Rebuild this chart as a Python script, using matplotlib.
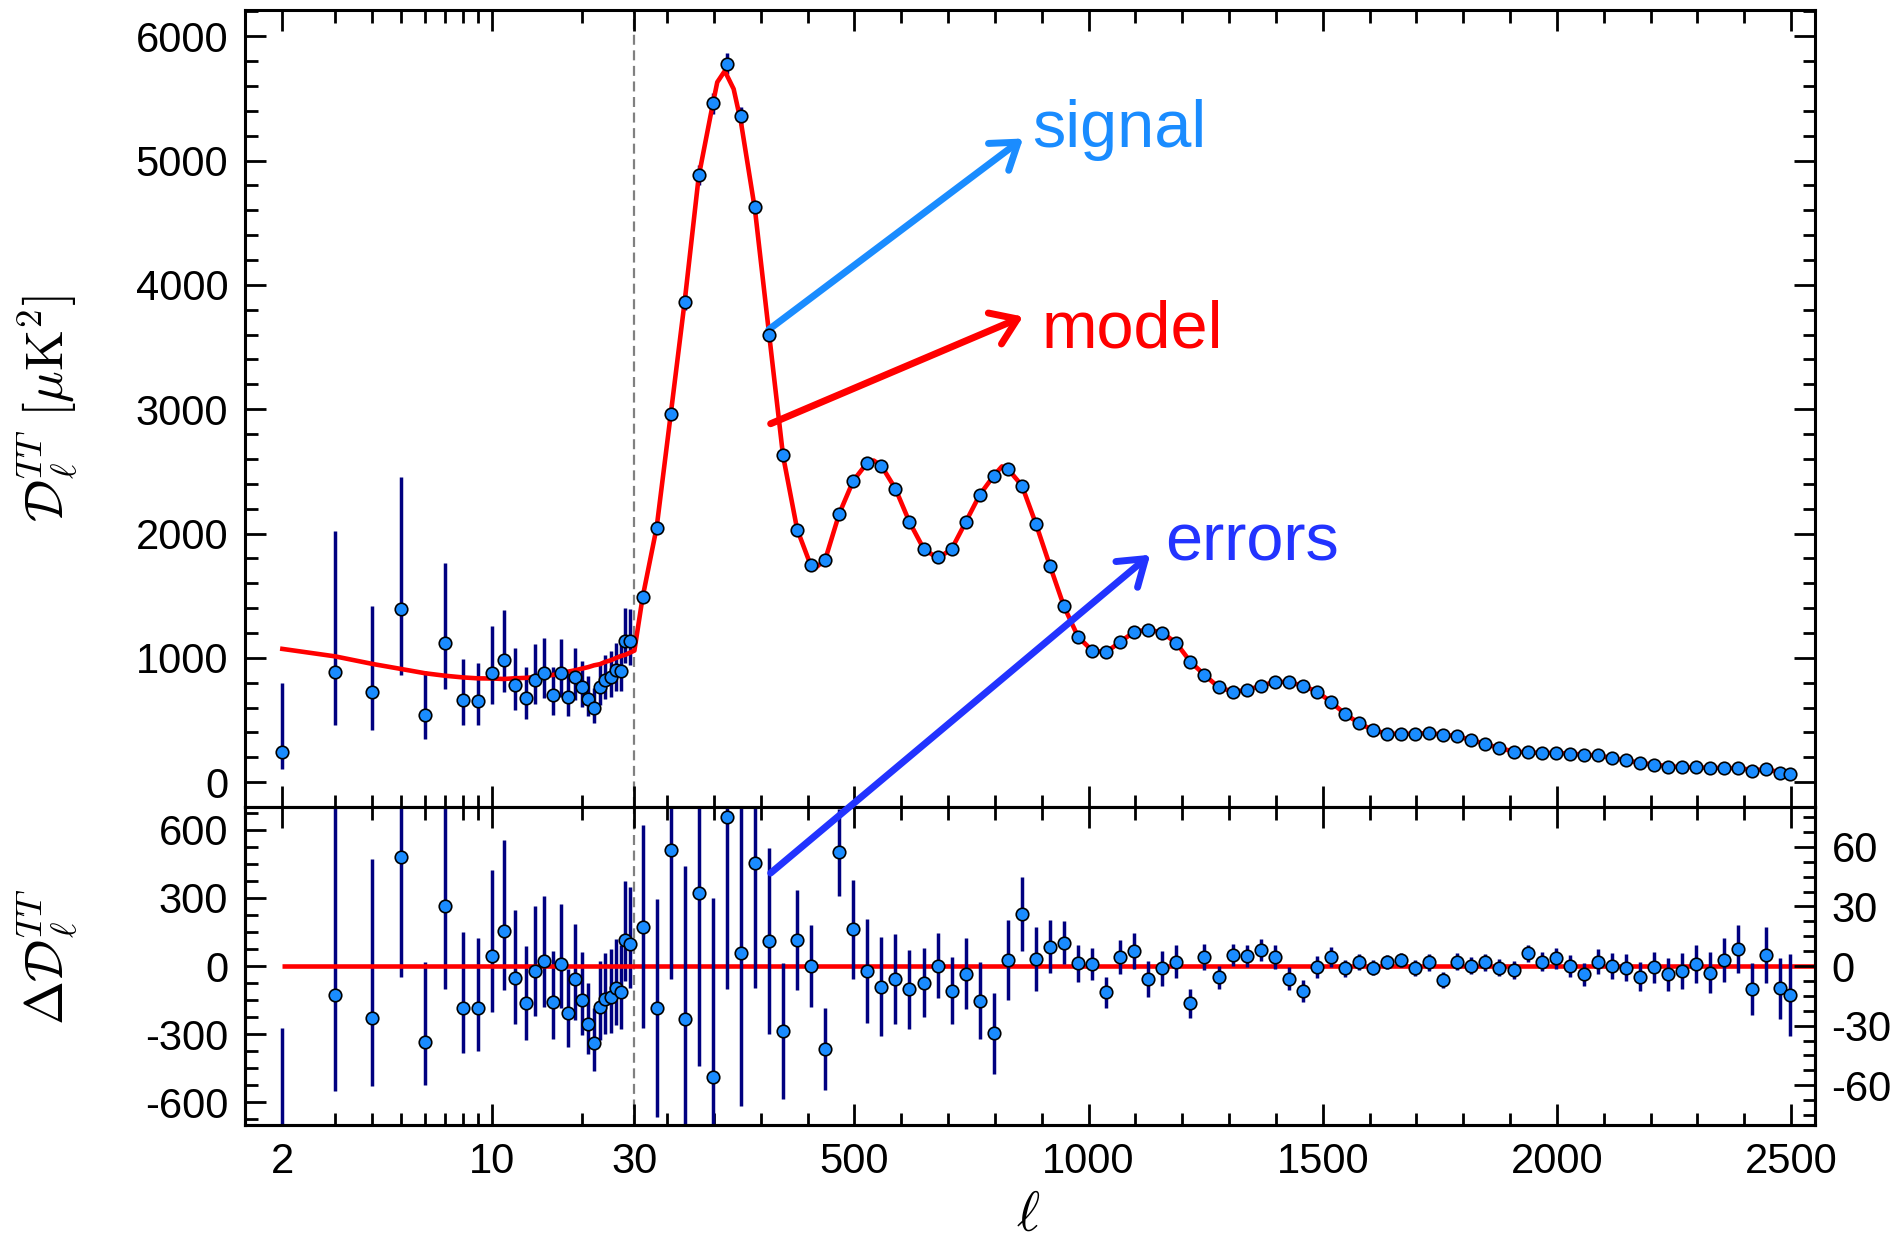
import matplotlib
matplotlib.use("Agg")
import matplotlib.pyplot as plt
import numpy as np
from matplotlib.patches import ConnectionPatch
from matplotlib.ticker import FixedLocator, MultipleLocator, FuncFormatter, NullFormatter

plt.rcParams.update({
    "font.family": "Liberation Sans",
    "font.size": 30,
    "mathtext.fontset": "cm",
    "axes.unicode_minus": False,
    "axes.linewidth": 2.2,
})

# ---- low-ell (2..29), unbinned ----
LOW_ELL = list(range(2, 30))
LOW_D = [244, 885, 724, 1389, 541, 1121, 657, 649, 877, 984,
         783, 678, 823, 877, 702, 882, 684, 842, 764, 670,
         600, 769, 823, 845, 903, 898, 1139, 1137]
LOW_UP = [557, 1139, 697, 1065, 354, 641, 335, 308, 380, 402,
          300, 250, 287, 286, 228, 268, 193, 241, 212, 180,
          156, 201, 201, 211, 215, 207, 261, 255]
LOW_DN = [139, 424, 303, 528, 190, 368, 198, 190, 247, 260,
          201, 166, 196, 201, 161, 193, 151, 180, 156, 134,
          121, 147, 155, 161, 166, 161, 182, 193]
MODEL_LOW = [1072, 1012, 951, 910, 876, 856, 843, 835, 834, 830,
             836, 839, 845, 855, 862, 875, 889, 900, 913, 925,
             940, 949, 968, 980, 998, 1014, 1025, 1042]

# ---- high-ell, binned ----
HI_ELL = [47.5, 77.5, 107.5, 137.5, 167.5, 197.5, 227.5, 257.5, 287.5, 317.5,
          347.5, 377.5, 407.5, 437.5, 467.5, 497.5, 527.5, 557.5, 587.5, 617.5,
          647.5, 677.5, 707.5, 737.5, 767.5, 797.5, 827.5, 857.5, 887.5, 917.5,
          947.5, 977.5, 1007.5, 1037.5, 1067.5, 1097.5, 1127.5, 1157.5, 1187.5, 1217.5,
          1247.5, 1277.5, 1307.5, 1337.5, 1367.5, 1397.5, 1427.5, 1457.5, 1487.5, 1517.5,
          1547.5, 1577.5, 1607.5, 1637.5, 1667.5, 1697.5, 1727.5, 1757.5, 1787.5, 1817.5,
          1847.5, 1877.5, 1907.5, 1937.5, 1967.5, 1997.5, 2027.5, 2057.5, 2087.5, 2117.5,
          2147.5, 2177.5, 2207.5, 2237.5, 2267.5, 2297.5, 2327.5, 2357.5, 2387.5, 2417.5,
          2447.5, 2477.5, 2497]
HI_D = [1488, 2045, 2960, 3866, 4882, 5460, 5780, 5360, 4623, 3600,
        2628, 2030, 1750, 1785, 2160, 2421, 2571, 2539, 2357, 2092,
        1879, 1810, 1879, 2092, 2311, 2459, 2515, 2386, 2078, 1740,
        1413, 1169, 1059, 1045, 1129, 1210, 1228, 1203, 1118, 968,
        863, 764, 729, 740, 775, 807, 807, 775, 729, 646,
        549, 475, 418, 391, 389, 391, 399, 381, 372, 339,
        308, 273, 246, 241, 236, 238, 230, 222, 217, 195,
        177, 153, 142, 126, 121, 121, 113, 117, 117, 93,
        105, 77, 67]
HI_ERR = [35, 40, 45, 65, 80, 86, 81, 72, 54, 45,
          35, 30, 28, 28, 30, 30, 30, 28, 26, 24,
          22, 21, 21, 22, 22, 22, 21, 19, 17, 15,
          12, 10, 9, 9, 9, 9, 9, 9, 8, 7,
          6, 6, 6, 6, 6, 6, 6, 6, 6, 6,
          5, 5, 5, 5, 5, 5, 5, 5, 5, 5,
          5, 5, 5, 5, 5, 5, 5, 5, 5, 5,
          6, 6, 6, 7, 7, 7, 8, 8, 9, 9,
          10, 10, 12]
# residuals of the binned points (right-hand scale)
RES_HI = [19.8, -21.1, 58.6, -26.7, 36.6, -56, 75.2, 6.4, 51.7, 12.6,
          -32.7, 13.1, 0.2, -41.8, 57.2, 18.5, -2.5, -10.4, -6.5, -11.7,
          -8.4, 0.2, -12.4, -3.9, -17.5, -33.9, 3, 26.2, 3.5, 9.7,
          11.7, 1.4, 1.0, -13.3, 4.4, 7.6, -6.7, -1.2, 2.2, -18.8,
          4.7, -5.7, 5.5, 5.0, 8.1, 4.4, -6.4, -12.6, -0.7, 4.4,
          -1.2, 2.2, -0.8, 1.9, 3.0, -0.8, 1.9, -7, 2.2, 0.2,
          1.9, -0.8, -2, 6.4, 2.2, 3.9, 0, -4.2, 2.2, 0,
          -0.8, -5.4, -0.7, -4.2, -2.5, 1, -3.4, 3, 8.6, -11.7,
          5.5, -11.2, -14.6]
RES_HI_ERR = [51, 55, 65, 77, 87, 90, 87, 77, 63, 47,
              34, 25, 20.6, 20.5, 22, 25, 26, 25, 22.7, 19.8,
              17.5, 16.4, 16.7, 17.9, 19.4, 20.5, 20.3, 18.7, 16.2, 13.4,
              10.9, 9.2, 8.1, 8, 8.5, 9, 9, 8.8, 8.2, 7.3,
              6.5, 5.9, 5.5, 5.6, 5.7, 6, 5.9, 5.7, 5.5, 5,
              4.4, 4, 3.8, 3.6, 3.7, 4, 4.2, 3.9, 4.4, 4.2,
              4.4, 4.2, 4.4, 4.4, 4.9, 5.2, 5.5, 5.9, 6.3, 6.7,
              6.9, 7.3, 7.8, 8.2, 9, 9.6, 10.3, 11, 12.2, 13,
              14, 15.3, 20.5]

# best-fit model above ell = 30
MODEL_HI_ELL = [30, 47.5, 77.5, 107.5, 137.5, 167.5, 197.5, 207, 223, 242,
                257.5, 287.5, 317.5, 347.5, 377.5, 407.5, 417, 437.5, 467.5, 497.5,
                527.5, 541, 557.5, 587.5, 617.5, 647.5, 677.5, 707.5, 737.5, 767.5,
                797.5, 815, 827.5, 857.5, 887.5, 917.5, 947.5, 977.5, 1007.5, 1037.5,
                1067.5, 1097.5, 1127.5, 1157.5, 1187.5, 1217.5, 1247.5, 1277.5, 1307.5, 1337.5,
                1367.5, 1397.5, 1427.5, 1457.5, 1487.5, 1517.5, 1547.5, 1577.5, 1607.5, 1637.5,
                1667.5, 1697.5, 1727.5, 1757.5, 1787.5, 1817.5, 1847.5, 1877.5, 1907.5, 1937.5,
                1967.5, 1997.5, 2027.5, 2057.5, 2087.5, 2117.5, 2147.5, 2177.5, 2207.5, 2237.5,
                2267.5, 2297.5, 2327.5, 2357.5, 2387.5, 2417.5, 2447.5, 2477.5, 2497]
MODEL_HI = [1058, 1485, 2048, 2955, 3870, 4875, 5455, 5630, 5720, 5575,
            5310, 4605, 3610, 2625, 2035, 1735, 1724, 1790, 2160, 2425,
            2570, 2587, 2545, 2360, 2092, 1879, 1800, 1875, 2092, 2311,
            2465, 2540, 2520, 2386, 2078, 1740, 1413, 1169, 1059, 1045,
            1129, 1209, 1228, 1203, 1118, 968, 863, 764, 729, 740,
            775, 807, 807, 775, 729, 646, 549, 475, 418, 391,
            389, 391, 395, 383, 370, 339, 308, 273, 248, 240,
            236, 236, 230, 222, 215, 195, 177, 155, 142, 128,
            122, 120, 115, 115, 112, 100, 100, 82, 72]

X_TICKS = [2, 10, 30, 500, 1000, 1500, 2000, 2500]
X_MINOR = [3, 4, 5, 6, 7, 8, 9, 20] + [m for m in range(100, 2600, 100) if m % 500]
ELL_SPLIT = 30
DEC = 639.2  # linear ell-units per decade of the log part


def fwd(ell):
    ell = np.asarray(ell, dtype=float)
    return np.where(ell < ELL_SPLIT,
                    ELL_SPLIT + DEC * np.log10(np.clip(ell, 1e-6, None) / ELL_SPLIT), ell)


def inv(u):
    u = np.asarray(u, dtype=float)
    return np.where(u < ELL_SPLIT,
                    ELL_SPLIT * 10 ** ((np.minimum(u, ELL_SPLIT) - ELL_SPLIT) / DEC), u)


MARK = dict(ls="none", marker="o", ms=9, mfc="#1a8cff", mec="black", mew=1.2, zorder=4)
ERR = dict(fmt="none", ecolor="#000080", elinewidth=2.5, capsize=0, zorder=2)

fig = plt.figure(figsize=(18.99, 12.42), dpi=100)
ax = fig.add_axes([0.1290, 0.3502, 0.8267, 0.6417])
axr = fig.add_axes([0.1290, 0.0942, 0.8267, 0.2560], sharex=ax)
axr2 = axr.twinx()
ax.set_xscale("function", functions=(fwd, inv))
ax.set_xlim(1.5, 2551)

# ---- upper panel ----
model_ell = LOW_ELL + MODEL_HI_ELL
model_d = MODEL_LOW + MODEL_HI
ax.errorbar(LOW_ELL, LOW_D, yerr=[LOW_DN, LOW_UP], **ERR)
ax.errorbar(HI_ELL, HI_D, yerr=HI_ERR, **ERR)
ax.plot(model_ell, model_d, color="red", lw=3.3, zorder=3)
ax.plot(LOW_ELL, LOW_D, **MARK)
ax.plot(HI_ELL, HI_D, **MARK)
ax.axvline(ELL_SPLIT, color="#808080", ls=(0, (4.5, 2.5)), lw=1.6, zorder=1)
ax.set_ylim(-200, 6210)
ax.yaxis.set_major_locator(MultipleLocator(1000))
ax.yaxis.set_minor_locator(MultipleLocator(200))
ax.set_ylabel(r"$\mathcal{D}_\ell^{TT}\ [\mu{\rm K}^2]$", fontsize=38)
ax.yaxis.set_label_coords(-0.105, 0.5)

# ---- lower panel: residuals ----
res_low = np.array(LOW_D) - np.array(MODEL_LOW)
axr.hlines(0, LOW_ELL[0], 2551, color="red", lw=3.3, zorder=3)
axr.errorbar(LOW_ELL, res_low, yerr=[LOW_DN, LOW_UP], **ERR)
axr.plot(LOW_ELL, res_low, **MARK)
axr.axvline(ELL_SPLIT, color="#808080", ls=(0, (4.5, 2.5)), lw=1.6, zorder=1)
axr.set_ylim(-700, 700)
axr.yaxis.set_major_locator(MultipleLocator(300))
axr.yaxis.set_minor_locator(MultipleLocator(75))
axr.set_ylabel(r"$\Delta\mathcal{D}_\ell^{TT}$", fontsize=38)
axr.yaxis.set_label_coords(-0.105, 0.53)
axr.set_xlabel(r"$\ell$", fontsize=40)
axr.xaxis.set_label_coords(0.4985, -0.205)

axr2.errorbar(HI_ELL, RES_HI, yerr=RES_HI_ERR, **ERR)
axr2.plot(HI_ELL, RES_HI, **MARK)
axr2.set_ylim(-80, 80)
axr2.yaxis.set_major_locator(MultipleLocator(30))
axr2.yaxis.set_minor_locator(MultipleLocator(7.5))

for a in (ax, axr):
    a.xaxis.set_major_locator(FixedLocator(X_TICKS))
    a.xaxis.set_minor_locator(FixedLocator(X_MINOR))
    a.xaxis.set_major_formatter(FuncFormatter(lambda v, p: f"{v:g}"))
    a.xaxis.set_minor_formatter(NullFormatter())

tick = dict(direction="in", width=2.0)
ax.tick_params(which="both", top=True, right=True, labelbottom=False, **tick)
ax.tick_params(which="major", length=15, pad=12)
ax.tick_params(which="minor", length=9)
axr.tick_params(which="both", top=True, right=False, **tick)
axr.tick_params(which="major", length=15, pad=12)
axr.tick_params(which="minor", length=9)
axr2.tick_params(which="both", **tick)
axr2.tick_params(which="major", length=15, pad=12)
axr2.tick_params(which="minor", length=9)

# ---- annotations ----
arrow = "->,head_length=0.8,head_width=0.55"
ax.annotate("", xy=(860, 5177), xytext=(317, 3640),
            arrowprops=dict(arrowstyle=arrow, color="#1a8cff", lw=5,
                            shrinkA=0, shrinkB=0, mutation_scale=22))
ax.text(880, 5105, "signal", color="#1a8cff", fontsize=48, va="baseline")
ax.annotate("", xy=(860, 3745), xytext=(321, 2883),
            arrowprops=dict(arrowstyle=arrow, color="red", lw=5,
                            shrinkA=0, shrinkB=0, mutation_scale=22))
ax.text(900, 3497, "model", color="red", fontsize=48, va="baseline")
con = ConnectionPatch(xyA=(321, 46.8), coordsA=axr2.transData,
                      xyB=(1131.5, 1829), coordsB=ax.transData,
                      arrowstyle=arrow, color="#2233ff", lw=5,
                      shrinkA=0, shrinkB=0, mutation_scale=22, zorder=10)
fig.add_artist(con)
ax.text(1163.5, 1783, "errors", color="#2233ff", fontsize=48, va="baseline")

fig.savefig("out.png", dpi=100)
